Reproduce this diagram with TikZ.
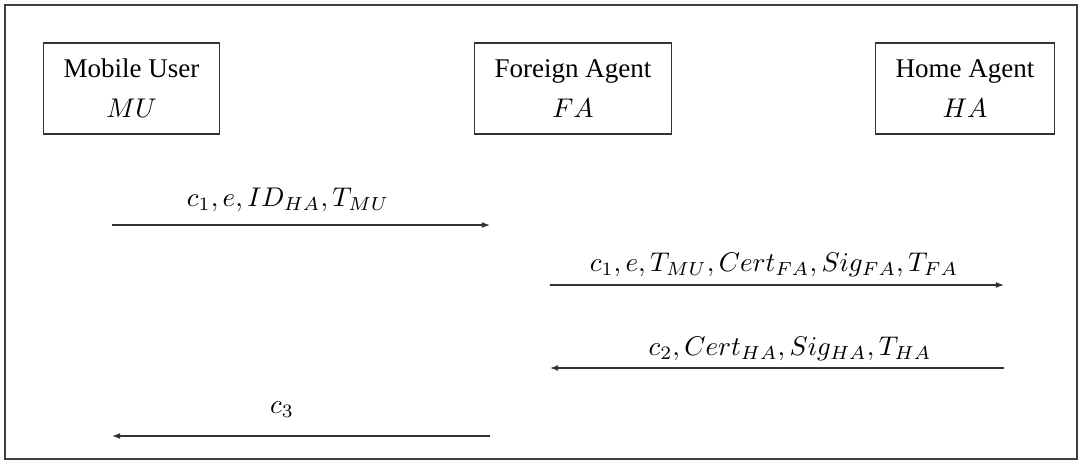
\documentclass[tikz,border=0pt]{standalone}
\usepackage{fontspec}
\setmainfont{Liberation Serif}
\usetikzlibrary{arrows.meta}
\begin{document}
\begin{tikzpicture}[x=0.37pt,y=-0.37pt,
  agentbox/.style={draw=black!80, line width=0.45pt, anchor=west,
    minimum height=91*0.37pt, align=center, inner xsep=20*0.37pt, inner ysep=0pt,
    font=\fontsize{10}{14.8}\selectfont},
  msg/.style={draw=black!80, line width=0.45pt, -{Latex[length=3pt,width=2.2pt]}},
  lbl/.style={inner sep=0pt, font=\fontsize{9.6}{12}\selectfont}]
\useasboundingbox (0,0) rectangle (1079,461);
\draw[black!75, line width=0.6pt] (5,5) rectangle (1077,459);
\node[agentbox] (mu) at (43,88.5) {Mobile User\\ $MU$};
\node[agentbox] (fa) at (474,88.5) {Foreign Agent\\ $FA$};
\node[agentbox] (ha) at (875,88.5) {Home Agent\\ $HA$};
\coordinate (a1s) at (112,225); \coordinate (a1e) at (490,225);
\coordinate (a2s) at (550,285); \coordinate (a2e) at (1004,285);
\coordinate (a3s) at (1004,368); \coordinate (a3e) at (550,368);
\coordinate (a4s) at (490,436); \coordinate (a4e) at (112,436);
\draw[msg] (a1s) -- (a1e);
\draw[msg] (a2s) -- (a2e);
\draw[msg] (a3s) -- (a3e);
\draw[msg] (a4s) -- (a4e);
\node[lbl] (l1) at (288,200) {$c_1, e, ID_{HA}, T_{MU}$};
\node[lbl] (l2) at (774,265) {$c_1, e, T_{MU}, Cert_{FA}, Sig_{FA}, T_{FA}$};
\node[lbl] (l3) at (790,349) {$c_2, Cert_{HA}, Sig_{HA}, T_{HA}$};
\node[lbl] (l4) at (282,410) {$c_3$};
\end{tikzpicture}
\end{document}
